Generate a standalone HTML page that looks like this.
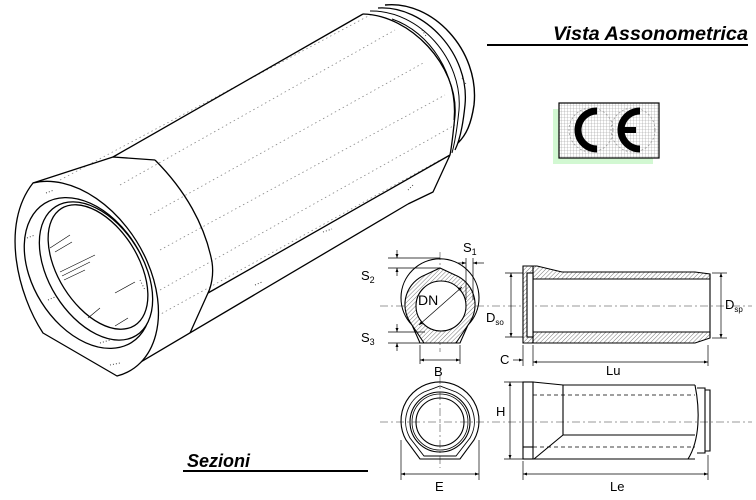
<!DOCTYPE html>
<html><head><meta charset="utf-8"><style>
html,body{margin:0;padding:0;background:#fff;}
svg{display:block;}
text{font-family:"Liberation Sans",Arial,sans-serif;fill:#000;}
</style></head><body>
<svg width="756" height="500" viewBox="0 0 756 500" xmlns="http://www.w3.org/2000/svg">
<defs>
<pattern id="h" width="3" height="3" patternUnits="userSpaceOnUse" patternTransform="rotate(45)">
<rect width="3" height="3" fill="#fff"/><line x1="0" y1="0" x2="0" y2="3" stroke="#555" stroke-width="0.8"/>
</pattern>
<pattern id="g" width="3" height="3" patternUnits="userSpaceOnUse">
<rect width="3" height="3" fill="#fff"/><path d="M0 0H3M0 0V3" stroke="#999" stroke-width="0.6"/>
</pattern>
<marker id="a" viewBox="0 0 8 6" refX="8" refY="3" markerWidth="6" markerHeight="4.5" orient="auto-start-reverse"><path d="M0 0L8 3L0 6z" fill="#000"/></marker>
</defs>

<g fill="none" stroke="#000" stroke-width="1.3" stroke-linejoin="round">
<g stroke="#888" stroke-width="0.8" stroke-dasharray="1.5 3">
<line x1="60" y1="180" x2="372" y2="14"/>
<line x1="120" y1="185" x2="395" y2="30"/>
<line x1="150" y1="215" x2="425" y2="62"/>
<line x1="160" y1="250" x2="445" y2="95"/>
<line x1="160" y1="290" x2="455" y2="125"/>
<line x1="150" y1="320" x2="440" y2="160"/>
</g>
<path d="M33,183 L113,157 L155,160"/>
<line x1="113" y1="157" x2="363" y2="14"/>
<path d="M155,160 C185,190 205,225 212,262 C214,275 211,287 208,293 L190,333"/>
<line x1="208" y1="293" x2="450" y2="155"/>
<line x1="117" y1="376" x2="408" y2="204"/>
<path d="M450,155 L433,192 L408,204"/>
<!-- back flange arcs -->
<path d="M363,14 C410,15 458,65 455,115 C453,135 452,145 450,155"/>
<path d="M370,11 C420,10 463,60 459,110 C457,130 455,142 452,153" stroke-width="1"/>
<path d="M392,19 C430,32 458,75 454,120" stroke-width="1"/>
<path d="M378,8 C425,5 470,55 465,105 C463,125 460,140 455,150"/>
<path d="M385,5 C432,0 480,50 474,105 C471,125 466,135 458,143" stroke-width="1.4"/>
<!-- front face -->
<path d="M117,376 L43,333 C18,295 0,225 33,183 A100 68 58 0 1 117,376 Z" fill="#fff"/>
<ellipse cx="88" cy="273" rx="82" ry="55" transform="rotate(58 88 273)"/>
<ellipse cx="96" cy="271" rx="76" ry="47" transform="rotate(58 96 271)" fill="#fff"/>
<ellipse cx="98" cy="267" rx="69" ry="40" transform="rotate(58 98 267)"/>
<g stroke-width="0.6">
<line x1="50" y1="248" x2="70" y2="235"/><line x1="55" y1="252" x2="72" y2="242"/>
<line x1="60" y1="272" x2="95" y2="255"/><line x1="62" y1="276" x2="90" y2="262"/><line x1="64" y1="280" x2="85" y2="270"/>
<line x1="115" y1="293" x2="135" y2="282"/>
<line x1="88" y1="318" x2="100" y2="308"/><line x1="115" y1="326" x2="128" y2="318"/>
</g>
<g stroke="#444" stroke-width="1" stroke-dasharray="1 2">
<line x1="46" y1="193" x2="54" y2="190"/><line x1="27" y1="238" x2="35" y2="235"/>
<line x1="48" y1="300" x2="55" y2="297"/><line x1="100" y1="343" x2="110" y2="340"/>
<line x1="110" y1="365" x2="120" y2="363"/><line x1="140" y1="280" x2="145" y2="290"/>
<line x1="255" y1="285" x2="262" y2="282"/><line x1="323" y1="232" x2="332" y2="229"/>
<line x1="408" y1="190" x2="414" y2="184"/><line x1="422" y1="30" x2="426" y2="36"/><line x1="462" y1="78" x2="466" y2="84"/>
</g>
</g>

<text x="553" y="40" font-size="19" font-weight="bold" font-style="italic" textLength="195" lengthAdjust="spacingAndGlyphs">Vista Assonometrica</text>
<rect x="487" y="44" width="261" height="2" fill="#000"/>

<rect x="553" y="109" width="100" height="55" fill="#d2f8d2"/>
<rect x="559" y="103" width="100" height="55" fill="url(#g)" stroke="#000" stroke-width="1.2"/>
<g fill="none" stroke="#999" stroke-width="0.8" stroke-dasharray="2 2"><circle cx="591" cy="130" r="22"/><circle cx="633" cy="130" r="22"/></g>
<path d="M597,111 A19 19 0 1 0 597,149" fill="none" stroke="#000" stroke-width="7"/>
<path d="M640,111 A19 19 0 1 0 640,149" fill="none" stroke="#000" stroke-width="7"/>
<rect x="620" y="127" width="16" height="6" fill="#000"/>

<g stroke="#777" stroke-width="0.8" stroke-dasharray="8 3 2 3" fill="none">
<line x1="380" y1="306" x2="752" y2="306"/>
<line x1="380" y1="422" x2="752" y2="422"/>
<line x1="440" y1="252" x2="440" y2="352"/>
<line x1="440" y1="376" x2="440" y2="468"/>
</g>

<g fill="none" stroke="#000" stroke-width="1.1">
<path d="M420,343 L460,343 L468,325 A39 39 0 1 0 412,325 Z"/>
<path d="M424,343 L456,343 L470,322 A32 32 0 0 0 455,275 L440,268 L425,275 A32 32 0 0 0 410,322 Z" fill="url(#h)"/>
<circle cx="441" cy="306" r="25" fill="#fff"/>
<path d="M420,459 L460,459 L474,440 A39 39 0 1 0 406,440 Z"/>
<path d="M424,456 L456,456 L470,438 A33 33 0 0 0 456,392 L440,386 L424,392 A33 33 0 0 0 410,438 Z" stroke-width="0.9"/>
<circle cx="440" cy="422" r="30"/>
<circle cx="440" cy="422" r="28" stroke-width="0.8"/>
<circle cx="440" cy="422" r="24"/>

<path d="M533,266 L537,266 L562,272 L695,272 L710,274 L710,279 L533,279 Z" fill="url(#h)"/>
<path d="M533,332 L710,332 L710,338 L695,343 L533,343 Z" fill="url(#h)"/>
<path d="M523,266 L537,266 M523,343 L533,343"/>
<path d="M523,266 L523,343 L533,343 L533,266 Z" fill="url(#h)"/>
<rect x="527" y="273" width="6" height="64" fill="#fff"/>
<line x1="710" y1="274" x2="710" y2="338"/>
<rect x="523" y="382" width="10" height="77"/>
<line x1="523" y1="447" x2="533" y2="447"/>
<path d="M533,382 L563,385 L695,385 M533,459 L695,459"/>
<path d="M563,385 L563,435 L695,435 M534,459 L563,435"/>
<path d="M695,385 C700,410 700,440 688,459"/>
<path d="M697,388 L705,388 L705,453 L697,453 M705,390 L710,390 L710,451 L705,451"/>
<g stroke-dasharray="4 3" stroke-width="0.8"><line x1="533" y1="395" x2="695" y2="395"/><line x1="533" y1="447" x2="695" y2="447"/></g>
</g>

<g stroke="#000" stroke-width="0.7" fill="none">
<line x1="388" y1="258" x2="440" y2="258"/><line x1="388" y1="268" x2="440" y2="268"/>
<line x1="388" y1="332" x2="425" y2="332"/><line x1="388" y1="343" x2="425" y2="343"/>
<line x1="397" y1="250" x2="397" y2="258" marker-end="url(#a)"/><line x1="397" y1="276" x2="397" y2="268" marker-end="url(#a)"/>
<line x1="397" y1="324" x2="397" y2="332" marker-end="url(#a)"/><line x1="397" y1="351" x2="397" y2="343" marker-end="url(#a)"/>
<line x1="458" y1="263" x2="466" y2="263" marker-end="url(#a)"/><line x1="484" y1="263" x2="473" y2="263" marker-end="url(#a)"/>
<line x1="466" y1="258" x2="466" y2="300"/><line x1="473" y1="258" x2="473" y2="300"/>
<line x1="419" y1="325" x2="462" y2="287" marker-start="url(#a)" marker-end="url(#a)"/>
<line x1="420" y1="345" x2="420" y2="364"/><line x1="460" y1="345" x2="460" y2="364"/>
<line x1="420" y1="360" x2="460" y2="360" marker-start="url(#a)" marker-end="url(#a)"/>
<line x1="511" y1="273" x2="511" y2="337" marker-start="url(#a)" marker-end="url(#a)"/>
<line x1="505" y1="273" x2="523" y2="273"/><line x1="505" y1="337" x2="523" y2="337"/>
<line x1="721" y1="273" x2="721" y2="338" marker-start="url(#a)" marker-end="url(#a)"/>
<line x1="712" y1="273" x2="727" y2="273"/><line x1="712" y1="338" x2="727" y2="338"/>
<line x1="523" y1="345" x2="523" y2="366"/><line x1="533" y1="345" x2="533" y2="366"/><line x1="708" y1="345" x2="708" y2="366"/>
<line x1="513" y1="360" x2="523" y2="360" marker-end="url(#a)"/>
<line x1="533" y1="362" x2="708" y2="362" marker-start="url(#a)" marker-end="url(#a)"/>
<line x1="510" y1="382" x2="510" y2="459" marker-start="url(#a)" marker-end="url(#a)"/>
<line x1="504" y1="382" x2="523" y2="382"/><line x1="504" y1="459" x2="523" y2="459"/>
<line x1="401" y1="440" x2="401" y2="480"/><line x1="479" y1="440" x2="479" y2="480"/>
<line x1="401" y1="474" x2="479" y2="474" marker-start="url(#a)" marker-end="url(#a)"/>
<line x1="523" y1="461" x2="523" y2="480"/><line x1="708" y1="455" x2="708" y2="480"/>
<line x1="523" y1="474" x2="708" y2="474" marker-start="url(#a)" marker-end="url(#a)"/>
</g>
<g font-size="13">
<text x="463" y="252">S<tspan font-size="9" dy="3">1</tspan></text>
<text x="361" y="280">S<tspan font-size="9" dy="3">2</tspan></text>
<text x="361" y="342">S<tspan font-size="9" dy="3">3</tspan></text>
<text x="418" y="305" font-size="14">DN</text>
<text x="486" y="322">D<tspan font-size="8" dy="3">so</tspan></text>
<text x="725" y="309">D<tspan font-size="8" dy="3">sp</tspan></text>
<text x="434" y="376">B</text>
<text x="500" y="364">C</text>
<text x="606" y="375">Lu</text>
<text x="496" y="416">H</text>
<text x="435" y="491">E</text>
<text x="610" y="491">Le</text>
</g>
<text x="187" y="467" font-size="18" font-weight="bold" font-style="italic">Sezioni</text>
<rect x="183" y="470" width="185" height="2" fill="#000"/>
</svg>
</body></html>
